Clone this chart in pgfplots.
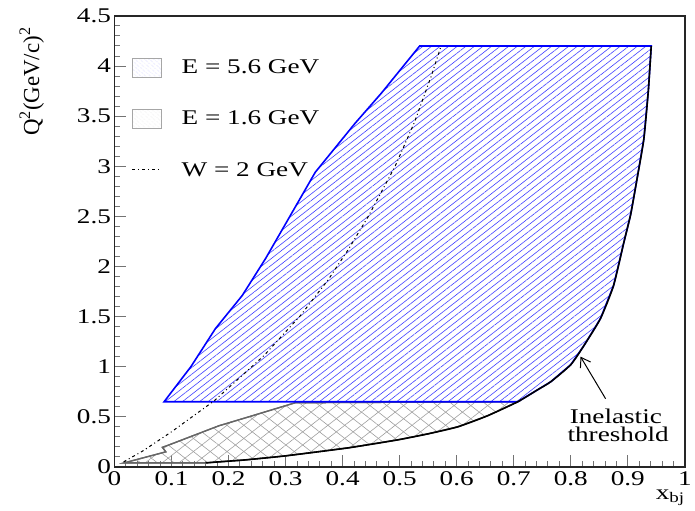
\documentclass[border=0pt]{standalone}
\usepackage{fontspec}
\setmainfont{Liberation Serif}[FakeStretch=1.3]
\newfontfamily\plainserif{Liberation Serif}
\usepackage{pgfplots}
\pgfplotsset{compat=1.18}
\usetikzlibrary{patterns.meta,arrows.meta}

\begin{document}
\begin{tikzpicture}
\begin{axis}[
scale only axis,
width=573pt,
height=453pt,
xmin=0, xmax=1,
ymin=0, ymax=4.5,
xtick={0,0.1,0.2,0.3,0.4,0.5,0.6,0.7,0.8,0.9,1},
ytick={0,0.5,1,1.5,2,2.5,3,3.5,4,4.5},
minor x tick num=4,
minor y tick num=4,
tick align=inside,
xtick pos=bottom,
ytick pos=left,
major tick length=12pt,
minor tick length=6pt,
every tick/.style={black!55, line width=1pt},
axis line style={line width=1.6pt, black!85},
/pgf/number format/assume math mode=true,
tick label style={font=\fontsize{21}{25}\selectfont},
xticklabel style={yshift=-1pt},
xlabel={x\textsubscript{bj}},
xlabel style={at={(axis description cs:1,-0.05)}, anchor=north east, inner sep=0pt, font=\fontsize{21}{25}\selectfont},
ylabel={Q\textsuperscript{2}(GeV/c)\textsuperscript{2}},
ylabel style={at={(axis description cs:-0.145,0.975)}, anchor=east, inner sep=0pt, font=\plainserif\fontsize{23}{27}\selectfont},
legend style={at={(axis description cs:0.025,0.912)}, anchor=north west, draw=none, fill=none,
  font=\fontsize{21}{25}\selectfont, row sep=32pt,
  /tikz/every odd column/.append style={column sep=18pt}},
legend cell align=left,
]

% legend entries
\addlegendimage{legend image code/.code={
  \draw[draw=gray!70, line width=0.6pt, pattern={Lines[angle=-40,distance=4pt,line width=0.4pt]}, pattern color=blue!40]
  (0pt,-9.5pt) rectangle (29pt,9.5pt);}}
\addlegendentry{E = 5.6 GeV}
\addlegendimage{legend image code/.code={
  \draw[draw=gray!70, line width=0.6pt, pattern={Lines[angle=-40,distance=4pt,line width=0.4pt]}, pattern color=gray!35]
  (0pt,-9.5pt) rectangle (29pt,9.5pt);}}
\addlegendentry{E = 1.6 GeV}
\addlegendimage{legend image code/.code={
  \draw[black, line width=1pt, dash pattern=on 3pt off 3pt on 1pt off 3pt] (0pt,0pt) -- (29pt,0pt);}}
\addlegendentry{W = 2 GeV}

% E = 1.6 GeV region
\addplot[forget plot, draw=gray!80!black, line width=1.3pt,
  pattern={Lines[angle=38,distance=10.4pt,line width=0.6pt]}, pattern color=gray!75,
  postaction={pattern={Lines[angle=-38,distance=10.4pt,line width=0.6pt]}, pattern color=gray!75}]
coordinates {
(0.017,0.04) (0.090,0.15) (0.084,0.195) (0.096,0.22) (0.183,0.41) (0.230,0.49) (0.317,0.64)
(0.707,0.65) (0.654,0.51) (0.602,0.40) (0.550,0.33) (0.497,0.27) (0.410,0.19) (0.300,0.11) (0.230,0.07) (0.183,0.05) (0.160,0.04)
} -- cycle;

% E = 5.6 GeV region
\addplot[forget plot, draw=blue, line width=1.6pt,
  pattern={Lines[angle=38,distance=5.3pt,line width=0.6pt]}, pattern color=blue!75]
coordinates {
(0.087,0.65) (0.134,1.00) (0.177,1.38) (0.224,1.71) (0.265,2.08) (0.352,2.94) (0.422,3.43) (0.468,3.73) (0.535,4.20)
(0.941,4.20) (0.936,3.76) (0.928,3.27) (0.916,2.87) (0.905,2.52) (0.893,2.24) (0.875,1.81) (0.852,1.48)
(0.823,1.21) (0.800,1.02) (0.765,0.85) (0.742,0.77) (0.707,0.65)
} -- cycle;

% inelastic threshold
\addplot[forget plot, black, line width=1.6pt, smooth, tension=0.35]
coordinates {
(0.160,0.04) (0.183,0.05) (0.230,0.07) (0.300,0.11) (0.410,0.19) (0.497,0.27) (0.550,0.33) (0.602,0.40) (0.654,0.51) (0.707,0.65)
(0.742,0.77) (0.765,0.85) (0.800,1.02) (0.823,1.21) (0.852,1.48) (0.875,1.81) (0.893,2.24) (0.905,2.52)
(0.916,2.87) (0.928,3.27) (0.936,3.76) (0.941,4.20)
};

% W = 2 GeV
\addplot[forget plot, black, line width=1pt, dash pattern=on 3pt off 3pt on 1pt off 3pt]
coordinates {
(0.016,0.05) (0.050,0.16) (0.100,0.35) (0.175,0.66) (0.262,1.11) (0.326,1.51) (0.375,1.87) (0.410,2.17)
(0.445,2.50) (0.492,3.00) (0.526,3.44) (0.556,3.91) (0.572,4.19)
};

\draw[-{Straight Barb[length=9pt,width=12pt]}, line width=1pt] (axis cs:0.861,0.68) -- (axis cs:0.817,1.10);
\node[anchor=base, inner sep=0pt, font=\fontsize{21}{25}\selectfont] at (axis cs:0.879,0.437) {Inelastic};
\node[anchor=base, inner sep=0pt, font=\fontsize{21}{25}\selectfont] at (axis cs:0.883,0.25) {threshold};
\end{axis}
% keep the blank margins of the reference round the axis
\path (current axis.south west) ++(-115pt,-44pt);
\path (current axis.north east) ++(7pt,16pt);
\end{tikzpicture}
\end{document}
